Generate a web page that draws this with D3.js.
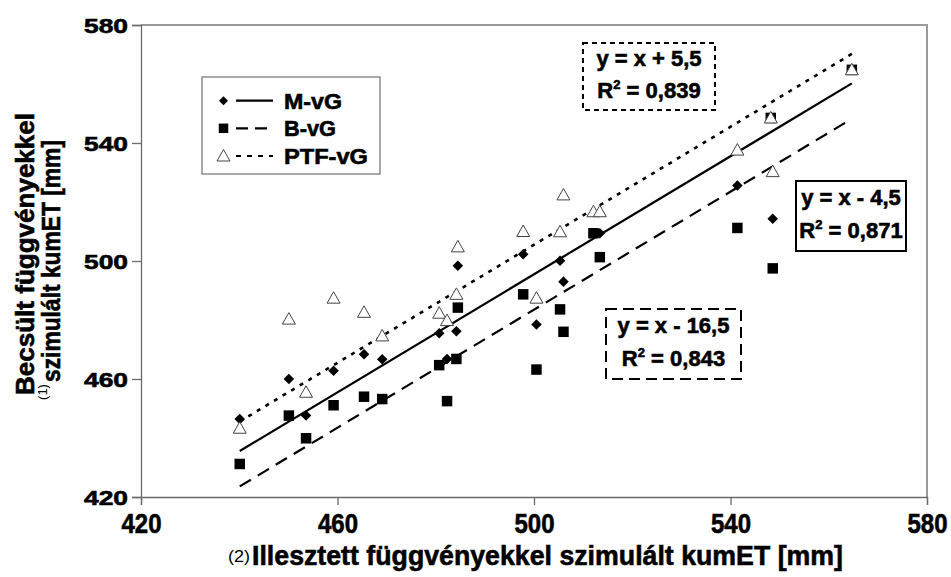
<!DOCTYPE html>
<html><head><meta charset="utf-8">
<script src="https://cdn.jsdelivr.net/npm/d3@7"></script>
<style>
html,body{margin:0;padding:0;background:#fff;}
svg{display:block;font-family:"Liberation Sans",Arial,sans-serif;}
</style></head>
<body>
<svg id="chart" width="951" height="577"></svg>
<script>
// ---- data ----
const xVals = [440.1, 450.1, 453.6, 459.2, 465.4, 469.1, 480.7, 482.3, 484.2, 484.5, 497.8, 500.5, 505.3, 506.0, 512.1, 513.4, 541.4, 548.6, 548.2, 564.7];
const mvgVals = [446.4, 460.0, 447.6, 462.8, 468.4, 466.7, 475.5, 466.8, 476.2, 498.4, 502.3, 478.5, 500.1, 493.0, 509.4, 509.4, 525.6, 514.3, 548.5, 564.8];
const bvgVals = [431.2, 447.6, 439.9, 451.1, 454.0, 453.2, 464.7, 452.5, 466.8, 484.2, 488.7, 463.2, 483.6, 476.0, 509.4, 501.3, 511.2, 497.5, 548.5, 564.8];
const ptfVals = [443.3, 480.3, 455.5, 487.4, 482.6, 474.6, 482.3, 479.8, 488.7, 504.8, 510.0, 487.4, 509.9, 522.4, 516.7, 516.7, 537.6, 530.3, 548.5, 564.8];
const seriesNames = ["M-vG", "B-vG", "PTF-vG"];
const trendIntercepts = [-4.5, -16.5, 5.5];
const trendSlopes = [1, 1, 1];
const eqLabels = ["y = x - 4,5", "y = x - 16,5", "y = x + 5,5"];
const r2Labels = ["0,871", "0,843", "0,839"];
const xTicks = [420, 460, 500, 540, 580];
const yTicks = [420, 460, 500, 540, 580];
const xDomain = [420, 580];
const yDomain = [420, 580];
const xTitle = "Illesztett függvényekkel szimulált kumET  [mm]";
const xTitlePrefix = "(2)";
const yTitle1 = "Becsült függvényekkel";
const yTitle2 = "szimulált kumET  [mm]";
const yTitlePrefix = "(1)";

// ---- layout ----
const L = 141, R = 927, T = 25, B = 497;
const svg = d3.select("#chart");
const x = d3.scaleLinear().domain(xDomain).range([L, R]);
const y = d3.scaleLinear().domain(yDomain).range([B, T]);
const heavy = sel => sel.attr("stroke", "#000").attr("stroke-width", 0.6).attr("paint-order", "stroke");

// plot frame (top/right)
svg.append("path")
  .attr("d", `M${L},${T}H${R}V${B}`)
  .attr("fill", "none").attr("stroke", "#9a9a9a").attr("stroke-width", 2);

// axes
const xAxis = svg.append("g").attr("transform", `translate(0,${B})`)
  .call(d3.axisBottom(x).tickValues(xTicks).tickSize(8).tickFormat(d3.format("d")));
const yAxis = svg.append("g").attr("transform", `translate(${L},0)`)
  .call(d3.axisLeft(y).tickValues(yTicks).tickSize(9).tickFormat(d3.format("d")));
[xAxis, yAxis].forEach(g => {
  g.select(".domain").attr("stroke", "#6a6a6a").attr("stroke-width", 1.3);
  g.selectAll(".tick line").attr("stroke", "#6a6a6a").attr("stroke-width", 1.3);
});
xAxis.selectAll(".tick text")
  .attr("y", 0).attr("dy", 0)
  .attr("transform", "translate(0,36)")
  .attr("font-size", 27).attr("font-weight", "bold").attr("fill", "#000")
  .attr("font-family", "Liberation Sans, Arial, sans-serif")
  .attr("textLength", 40).attr("lengthAdjust", "spacingAndGlyphs")
  .call(heavy);
yAxis.selectAll(".tick text")
  .attr("x", -13).attr("dy", "0.36em")
  .attr("font-size", 21).attr("font-weight", "bold").attr("fill", "#000")
  .attr("font-family", "Liberation Sans, Arial, sans-serif")
  .attr("textLength", 44).attr("lengthAdjust", "spacingAndGlyphs")
  .call(heavy);

// trend lines
const xMin = d3.min(xVals), xMax = d3.max(xVals);
const dashes = [null, "13,8", "4,6"];
const widths = [2.2, 2.2, 2.6];
trendIntercepts.forEach((b, i) => {
  const m = trendSlopes[i];
  svg.append("line")
    .attr("x1", x(xMin)).attr("y1", y(m * xMin + b))
    .attr("x2", x(xMax)).attr("y2", y(m * xMax + b))
    .attr("stroke", "#000").attr("stroke-width", widths[i])
    .attr("stroke-dasharray", dashes[i]);
});

// markers
const diamond = d3.symbol().type(d3.symbolSquare).size(56)();
const square = d3.symbol().type(d3.symbolSquare).size(110)();
const tri = "M0,-6.5L6.5,5L-6.5,5Z";
svg.append("g").selectAll("path").data(xVals.map((v, i) => [v, mvgVals[i]])).join("path")
  .attr("d", diamond).attr("transform", d => `translate(${x(d[0])},${y(d[1])}) rotate(45)`)
  .attr("fill", "#000");
svg.append("g").selectAll("path").data(xVals.map((v, i) => [v, bvgVals[i]])).join("path")
  .attr("d", square).attr("transform", d => `translate(${x(d[0])},${y(d[1])})`)
  .attr("fill", "#000");
svg.append("g").selectAll("path").data(xVals.map((v, i) => [v, ptfVals[i]])).join("path")
  .attr("d", tri).attr("transform", d => `translate(${x(d[0])},${y(d[1])})`)
  .attr("fill", "#fff").attr("stroke", "#444").attr("stroke-width", 1);

// legend
const lg = svg.append("g");
lg.append("rect").attr("x", 202).attr("y", 77).attr("width", 178).attr("height", 97)
  .attr("fill", "#fff").attr("stroke", "#7a7a7a").attr("stroke-width", 1.3);
const legendY = [100.7, 128.3, 156];
const legendTextLen = [58, 52, 84];
seriesNames.forEach((name, i) => {
  const cy = legendY[i];
  lg.append("line").attr("x1", 236).attr("x2", 273).attr("y1", cy).attr("y2", cy)
    .attr("stroke", "#000").attr("stroke-width", 2.2).attr("stroke-dasharray", [null, "12,7", "5,6"][i]);
  const m = lg.append("path").attr("transform", `translate(223.5,${cy})` + (i === 0 ? " rotate(45)" : ""));
  if (i === 0) m.attr("d", d3.symbol().type(d3.symbolSquare).size(40)()).attr("fill", "#000");
  else if (i === 1) m.attr("d", d3.symbol().type(d3.symbolSquare).size(90)()).attr("fill", "#000");
  else m.attr("d", tri).attr("fill", "#fff").attr("stroke", "#444").attr("stroke-width", 1);
  lg.append("text").attr("x", 284).attr("y", cy + 8).text(name)
    .attr("font-size", 22).attr("font-weight", "bold")
    .attr("textLength", legendTextLen[i]).attr("lengthAdjust", "spacingAndGlyphs")
    .call(heavy);
});

// equation boxes: order M-vG, B-vG, PTF-vG
const boxes = [
  {x: 796, y: 181, w: 110, h: 70, dash: null},
  {x: 606, y: 309, w: 135, h: 70, dash: "11,6"},
  {x: 583, y: 43, w: 132, h: 67, dash: "5,4"}
];
boxes.forEach((bx, i) => {
  const g = svg.append("g");
  g.append("rect").attr("x", bx.x).attr("y", bx.y).attr("width", bx.w).attr("height", bx.h)
    .attr("fill", "#fff").attr("stroke", "#000").attr("stroke-width", 2)
    .attr("stroke-dasharray", bx.dash);
  const cx = bx.x + bx.w / 2;
  g.append("text").attr("x", cx).attr("y", bx.y + bx.h * 0.23 + 8)
    .attr("text-anchor", "middle").attr("font-size", 22).attr("font-weight", "bold")
    .text(eqLabels[i]).call(heavy);
  const t = g.append("text").attr("x", cx).attr("y", bx.y + bx.h * 0.7 + 8)
    .attr("text-anchor", "middle").attr("font-size", 22).attr("font-weight", "bold").call(heavy);
  t.append("tspan").text("R");
  t.append("tspan").attr("font-size", 13).attr("dy", -9).text("2");
  t.append("tspan").attr("dy", 9).text(" = " + r2Labels[i]);
});

// axis titles
svg.append("text").attr("x", 239).attr("y", 562).attr("text-anchor", "middle")
  .attr("font-size", 17).attr("textLength", 22).attr("lengthAdjust", "spacingAndGlyphs")
  .text(xTitlePrefix);
svg.append("text").attr("x", 252).attr("y", 565)
  .attr("font-size", 28).attr("font-weight", "bold")
  .attr("textLength", 591).attr("lengthAdjust", "spacingAndGlyphs")
  .text(xTitle).call(heavy);

svg.append("text").attr("transform", "translate(34,254) rotate(-90)")
  .attr("text-anchor", "middle").attr("font-size", 25).attr("font-weight", "bold")
  .attr("textLength", 282).attr("lengthAdjust", "spacingAndGlyphs")
  .text(yTitle1).call(heavy);
svg.append("text").attr("transform", "translate(60,261) rotate(-90)")
  .attr("text-anchor", "middle").attr("font-size", 25).attr("font-weight", "bold")
  .attr("textLength", 242).attr("lengthAdjust", "spacingAndGlyphs")
  .text(yTitle2).call(heavy);
svg.append("text").attr("transform", "translate(47,392) rotate(-90)")
  .attr("text-anchor", "middle").attr("font-size", 13)
  .text(yTitlePrefix);
</script>
</body></html>
